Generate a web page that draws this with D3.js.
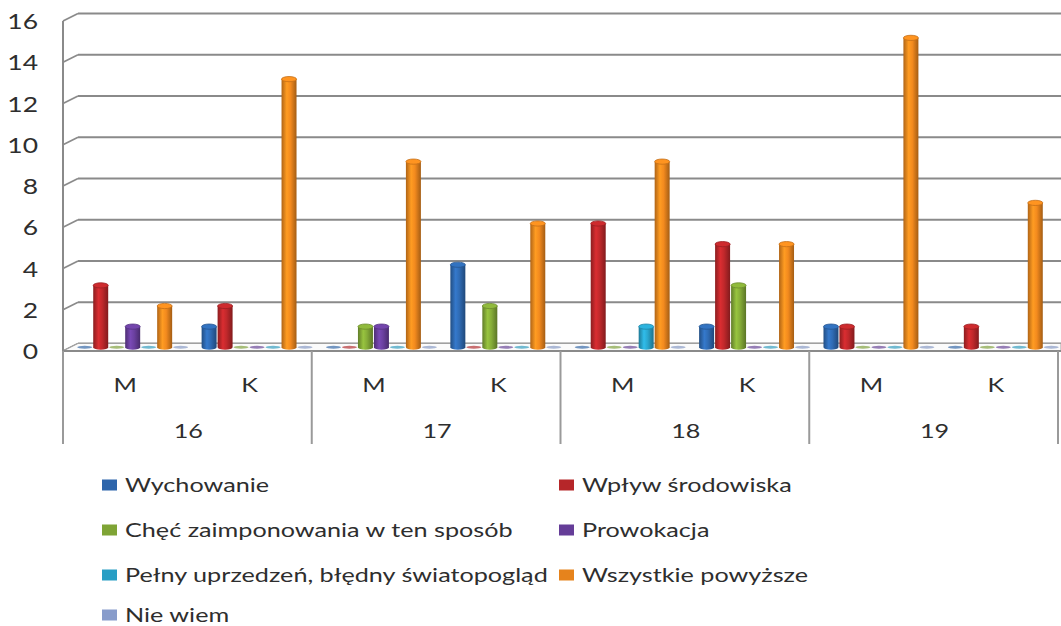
<!DOCTYPE html>
<html>
<head>
<meta charset="utf-8">
<script src="https://cdn.jsdelivr.net/npm/d3@7"></script>
<style>
  body { margin: 0; background: #fff; }
  svg text { font-family: Lato, "Open Sans", sans-serif; fill: #2e2e2e; }
</style>
</head>
<body>
<svg id="chart" width="1061" height="626"></svg>
<script>
"use strict";

// data
const groups = ['16', '17', '18', '19'];
const subs = ['M', 'K'];
const seriesNames = [
  'Wychowanie',
  'Wpływ środowiska',
  'Chęć zaimponowania w ten sposób',
  'Prowokacja',
  'Pełny uprzedzeń,  błędny światopogląd',
  'Wszystkie powyższe',
  'Nie wiem'
];
const seriesColors = ['#2f6bb4', '#c0282b', '#86ad38', '#6b40a0', '#2aa7cf', '#f38a1e', '#8fa5d6'];
// one array per series, order: 16M 16K 17M 17K 18M 18K 19M 19K
const wychowanie  = [0, 1, 0, 4, 0, 1, 1, 0];
const wplyw       = [3, 2, 0, 0, 6, 5, 1, 1];
const chec        = [0, 0, 1, 2, 0, 3, 0, 0];
const prowokacja  = [1, 0, 1, 0, 0, 0, 0, 0];
const pelny       = [0, 0, 0, 0, 1, 0, 0, 0];
const wszystkie   = [2, 13, 9, 6, 9, 5, 15, 7];
const nieWiem     = [0, 0, 0, 0, 0, 0, 0, 0];
const yTicks = [0, 2, 4, 6, 8, 10, 12, 14, 16];

const seriesValues = [wychowanie, wplyw, chec, prowokacja, pelny, wszystkie, nieWiem];

(function () {
  const svg = d3.select('#chart');
  const W = 1061;
  const left = 63, right = 1058;
  const depthX = 15, depthY = -7.5;
  const stretch = 1.26; // the original text is drawn wide

  function place(x, y) {
    return 'translate(' + x + ',' + y + ') scale(' + stretch + ',1)';
  }

  const subKeys = [];
  groups.forEach(g => subs.forEach(s => subKeys.push(g + '|' + s)));

  const y = d3.scaleLinear().domain([0, 16]).range([351, 21]);
  const x0 = d3.scaleBand().domain(subKeys).range([left, right]);
  const xg = d3.scaleBand().domain(groups).range([left, right]);
  const x1 = d3.scaleBand().domain(d3.range(seriesNames.length))
    .range([0, x0.bandwidth()]).paddingOuter(0.39);

  const defs = svg.append('defs');
  seriesColors.forEach(function (c, i) {
    const base = d3.color(c);
    const g = defs.append('linearGradient').attr('id', 'cyl' + i)
      .attr('x1', '0%').attr('x2', '100%').attr('y1', '0%').attr('y2', '0%');
    g.append('stop').attr('offset', '0%').attr('stop-color', base.darker(0.9));
    g.append('stop').attr('offset', '35%').attr('stop-color', base.brighter(0.35));
    g.append('stop').attr('offset', '60%').attr('stop-color', base);
    g.append('stop').attr('offset', '100%').attr('stop-color', base.darker(1.1));
  });

  const gridColor = '#8a8a8a';

  // back wall gridlines + left wall slants
  const grid = svg.append('g');
  yTicks.forEach(function (v) {
    grid.append('line')
      .attr('x1', left + depthX).attr('x2', W)
      .attr('y1', y(v) + depthY).attr('y2', y(v) + depthY)
      .attr('stroke', gridColor).attr('stroke-width', 2);
    grid.append('line')
      .attr('x1', left).attr('x2', left + depthX)
      .attr('y1', y(v)).attr('y2', y(v) + depthY)
      .attr('stroke', gridColor).attr('stroke-width', 1.6);
  });

  // left axis
  svg.append('line')
    .attr('x1', left).attr('x2', left)
    .attr('y1', y(16)).attr('y2', y(0))
    .attr('stroke', gridColor).attr('stroke-width', 2);

  // floor
  svg.append('path')
    .attr('d', 'M' + left + ',' + y(0) + 'L' + (left + depthX) + ',' + (y(0) + depthY) +
      'L' + W + ',' + (y(0) + depthY) + 'L' + W + ',' + y(0) + 'Z')
    .attr('fill', '#fbfbfb').attr('stroke', '#a0a0a0').attr('stroke-width', 1);

  // bars
  const bars = svg.append('g');
  seriesValues.forEach(function (vals, si) {
    vals.forEach(function (v, k) {
      const bw = x1.bandwidth() - 1;
      const bx = x0(subKeys[k]) + x1(si) + depthX / 2 + 0.5;
      const cx = bx + bw / 2;
      const yb = y(0) + depthY / 2;
      const yt = y(v) + depthY / 2;
      const base = d3.color(seriesColors[si]);
      const g = bars.append('g');
      if (v === 0) {
        g.append('ellipse')
          .attr('cx', cx).attr('cy', yb).attr('rx', bw / 2).attr('ry', 1.4)
          .attr('fill', base.darker(0.3)).attr('opacity', 0.65);
        return;
      }
      const ry = 2.6;
      g.append('path')
        .attr('d', 'M' + bx + ',' + yt + 'L' + bx + ',' + yb +
          'A' + (bw / 2) + ',' + ry + ' 0 0 0 ' + (bx + bw) + ',' + yb +
          'L' + (bx + bw) + ',' + yt + 'Z')
        .attr('fill', 'url(#cyl' + si + ')');
      g.append('ellipse')
        .attr('cx', cx).attr('cy', yt).attr('rx', bw / 2).attr('ry', ry)
        .attr('fill', base.brighter(0.2))
        .attr('stroke', base.darker(0.6)).attr('stroke-width', 0.8);
    });
  });

  // front floor edge / category axis
  svg.append('line')
    .attr('x1', left).attr('x2', W)
    .attr('y1', y(0)).attr('y2', y(0))
    .attr('stroke', gridColor).attr('stroke-width', 2);

  // y tick labels
  svg.append('g').selectAll('text').data(yTicks).enter()
    .append('text')
    .attr('transform', d => place(38, y(d) + 8))
    .attr('text-anchor', 'end')
    .style('font-size', '21px')
    .text(d => d);

  // group separators
  const seps = groups.map(g => xg(g)).concat([right]);
  svg.append('g').selectAll('line').data(seps).enter()
    .append('line')
    .attr('x1', d => d).attr('x2', d => d)
    .attr('y1', y(0)).attr('y2', 444)
    .attr('stroke', '#9a9a9a').attr('stroke-width', 2);

  // sub labels
  svg.append('g').selectAll('text').data(subKeys).enter()
    .append('text')
    .attr('transform', d => place(x0(d) + x0.bandwidth() / 2, 392))
    .attr('text-anchor', 'middle')
    .style('font-size', '20px')
    .text(d => d.split('|')[1]);

  // group labels
  svg.append('g').selectAll('text').data(groups).enter()
    .append('text')
    .attr('transform', d => place(xg(d) + xg.bandwidth() / 2 + 1, 438))
    .attr('text-anchor', 'middle')
    .style('font-size', '20px')
    .text(d => d);

  // legend
  const legend = svg.append('g');
  const colX = [102, 559];
  const rowY = [485, 530, 575, 615];
  seriesNames.forEach(function (name, i) {
    const lx = colX[i % 2], ly = rowY[Math.floor(i / 2)];
    legend.append('rect')
      .attr('x', lx).attr('y', ly - 5.5).attr('width', 15).attr('height', 11)
      .attr('fill', d3.color(seriesColors[i]).darker(0.15));
    legend.append('text')
      .attr('transform', place(lx + 23, ly + 7))
      .style('font-size', '20px')
      .text(name);
  });
})();
</script>
</body>
</html>
